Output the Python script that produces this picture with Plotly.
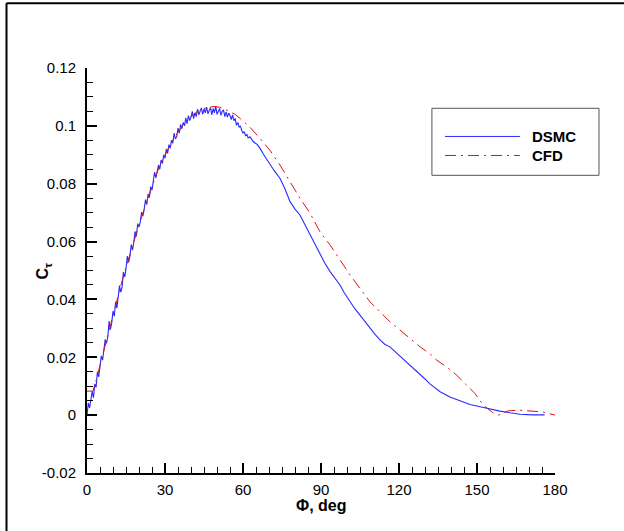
##importing the required modules
import plotly.graph_objects as go

## DSMC data (phi in deg, C_tau)
dsmc_phi = [0.0, 0.5, 1.0, 1.5, 2.0, 2.5, 3.0, 3.5, 4.0, 4.5, 5.0, 5.5, 6.0, 6.5, 7.0, 7.5,
            8.0, 8.5, 9.0, 9.5, 10.0, 10.5, 11.0, 11.5, 12.0, 12.5, 13.0, 13.5, 14.0, 14.5,
            15.0, 15.5, 16.0, 16.5, 17.0, 17.5, 18.0, 18.5, 19.0, 19.5, 20.0, 20.5, 21.0,
            21.5, 22.0, 22.5, 23.0, 23.5, 24.0, 24.5, 25.0, 25.5, 26.0, 26.5, 27.0, 27.5,
            28.0, 28.5, 29.0, 29.5, 30.0, 30.5, 31.0, 31.5, 32.0, 32.5, 33.0, 33.5, 34.0,
            34.5, 35.0, 35.5, 36.0, 36.5, 37.0, 37.5, 38.0, 38.5, 39.0, 39.5, 40.0, 40.5,
            41.0, 41.5, 42.0, 42.5, 43.0, 43.5, 44.0, 44.5, 45.0, 45.5, 46.0, 46.5, 47.0,
            47.5, 48.0, 48.5, 49.0, 49.5, 50.0, 50.5, 51.0, 51.5, 52.0, 52.5, 53.0, 53.5,
            54.0, 54.5, 55.0, 55.5, 56.0, 56.5, 57.0, 57.5, 58.0, 58.5, 59.0, 59.5, 60.0,
            60.5, 61.0, 61.5, 62.0,
            62.7, 64.0, 65.5, 66.5, 68.0, 70.4, 72.0, 74.2, 76.0, 78.1, 80.0, 81.9, 84.0,
            85.8, 88.0, 89.6, 91.5, 93.5, 95.5, 97.3, 99.0, 101.2, 103.0, 105.0, 107.0,
            108.8, 110.7, 112.7, 114.5, 116.5, 118.5, 120.4, 122.3, 124.2, 126.2, 128.1,
            130.0, 131.9, 135.8, 139.6, 143.5, 147.3, 151.2, 155.0, 158.8, 162.7, 166.5,
            171.5, 176.0]
dsmc_c = [0.0000, 0.0042, 0.0025, 0.0062, 0.0082, 0.0060, 0.0108, 0.0096, 0.0150, 0.0132,
          0.0165, 0.0205, 0.0190, 0.0222, 0.0262, 0.0248, 0.0270, 0.0325, 0.0296, 0.0318,
          0.0360, 0.0342, 0.0392, 0.0370, 0.0405, 0.0448, 0.0425, 0.0442, 0.0495, 0.0478,
          0.0505, 0.0550, 0.0528, 0.0548, 0.0590, 0.0570, 0.0598, 0.0635, 0.0618, 0.0662,
          0.0650, 0.0668, 0.0702, 0.0688, 0.0712, 0.0745, 0.0728, 0.0765, 0.0752, 0.0790,
          0.0778, 0.0802, 0.0840, 0.0820, 0.0848, 0.0865, 0.0850, 0.0882, 0.0870, 0.0900,
          0.0888, 0.0920, 0.0905, 0.0935, 0.0922, 0.0950, 0.0940, 0.0975, 0.0955, 0.0962,
          0.0992, 0.0975, 0.1005, 0.0990, 0.1012, 0.1000, 0.1028, 0.1008, 0.1035, 0.1018,
          0.1030, 0.1050, 0.1025, 0.1045, 0.1032, 0.1058, 0.1038, 0.1050, 0.1062, 0.1040,
          0.1058, 0.1045, 0.1065, 0.1042, 0.1055, 0.1064, 0.1038, 0.1060, 0.1045, 0.1068,
          0.1040, 0.1052, 0.1060, 0.1036, 0.1050, 0.1055, 0.1032, 0.1048, 0.1030, 0.1044,
          0.1036, 0.1022, 0.1038, 0.1018, 0.1025, 0.1002, 0.1012, 0.0995, 0.1000, 0.0985,
          0.0975, 0.0980, 0.0965, 0.0970, 0.0958,
          0.0962, 0.0945, 0.0935, 0.0923, 0.0900, 0.0865, 0.0845, 0.0819, 0.0785, 0.0738,
          0.0712, 0.0692, 0.0655, 0.0623, 0.0585, 0.0554, 0.0525, 0.0496, 0.0472, 0.0450,
          0.0422, 0.0392, 0.0368, 0.0346, 0.0322, 0.0300, 0.0280, 0.0260, 0.0245, 0.0236,
          0.0220, 0.0202, 0.0187, 0.0173, 0.0158, 0.0140, 0.0125, 0.0108, 0.0081, 0.0063,
          0.0049, 0.0037, 0.0029, 0.0021, 0.0014, 0.0008, 0.0003, 0.0001, 0.0001]

## CFD data
cfd_phi = [0.0, 2.3, 3.5, 5.0, 7.0, 9.0, 11.0, 13.0, 15.0, 17.0, 19.0, 21.0, 23.0, 25.0,
           27.0, 29.0, 31.0, 33.0, 35.0, 37.0, 39.0, 41.0, 43.0, 45.0, 47.0, 49.2, 51.0,
           53.0, 55.0, 56.9, 59.0, 60.8, 62.7, 66.5, 70.4, 74.2, 78.1, 81.9, 85.8, 89.6,
           93.5, 97.3, 101.2, 105.0, 108.8, 112.7, 116.5, 120.4, 124.2, 128.1, 131.9,
           134.5, 138.3, 142.2, 146.0, 149.2, 152.4, 154.4, 156.0, 158.2, 162.0, 166.5,
           171.5, 175.4, 180.0]
cfd_c = [0.0083, 0.0083, 0.0120, 0.0172, 0.0245, 0.0315, 0.0382, 0.0448, 0.0512, 0.0572,
         0.0630, 0.0685, 0.0738, 0.0790, 0.0840, 0.0882, 0.0918, 0.0950, 0.0978, 0.1003,
         0.1024, 0.1040, 0.1052, 0.1060, 0.1065, 0.1067, 0.1064, 0.1058, 0.1050, 0.1040,
         0.1025, 0.1010, 0.0995, 0.0957, 0.0915, 0.0865, 0.0807, 0.0750, 0.0698, 0.0634,
         0.0588, 0.0536, 0.0484, 0.0438, 0.0392, 0.0357, 0.0323, 0.0294, 0.0265, 0.0236,
         0.0212, 0.0190, 0.0167, 0.0138, 0.0104, 0.0075, 0.0035, 0.0021, 0.0009, 0.0000,
         0.0015, 0.0017, 0.0015, 0.0011, 0.0000]

## tick labels
x_ticks = [0, 30, 60, 90, 120, 150, 180]
y_ticks = [-0.02, 0, 0.02, 0.04, 0.06, 0.08, 0.1, 0.12]
y_labels = ["-0.02", "0", "0.02", "0.04", "0.06", "0.08", "0.1", "0.12"]

font = "Arial, Liberation Sans, sans-serif"
blue = "#2a2aff"
red = "#dd1111"
cfd_dash = "11px,5px,2px,5px"

fig = go.Figure()
fig.add_trace(go.Scatter(x=dsmc_phi, y=dsmc_c, mode="lines", name="DSMC",
                         line=dict(color=blue, width=1.1)))
fig.add_trace(go.Scatter(x=cfd_phi, y=cfd_c, mode="lines", name="CFD",
                         line=dict(color=red, width=1, dash=cfd_dash)))

axis_common = dict(showline=True, linecolor="black", linewidth=2, mirror=False,
                   showgrid=False, zeroline=False, ticks="inside", ticklen=10,
                   tickwidth=2, tickcolor="black",
                   tickfont=dict(family=font, size=15, color="black"))

fig.update_xaxes(range=[0, 180], tickvals=x_ticks,
                 minor=dict(dtick=5, ticks="inside", ticklen=6, tickwidth=1,
                            tickcolor="black"),
                 ticklabelstandoff=2, **axis_common)
fig.update_yaxes(range=[-0.02, 0.12], tickvals=y_ticks, ticktext=y_labels,
                 minor=dict(dtick=0.005, ticks="inside", ticklen=6, tickwidth=1,
                            tickcolor="black"),
                 ticklabelstandoff=6, **axis_common)

## hand drawn legend box like the original
fig.add_shape(type="rect", xref="paper", yref="paper", x0=0.737, x1=1.094,
              y0=0.735, y1=0.9005, line=dict(color="#555555", width=1),
              fillcolor="white")
fig.add_shape(type="line", xref="paper", yref="paper", x0=0.765, x1=0.925,
              y0=0.831, y1=0.831, line=dict(color=blue, width=1))
fig.add_shape(type="line", xref="paper", yref="paper", x0=0.765, x1=0.925,
              y0=0.784, y1=0.784, line=dict(color=red, width=1, dash=cfd_dash))
for name, yy in [("DSMC", 0.831), ("CFD", 0.784)]:
    fig.add_annotation(text="<b>" + name + "</b>", xref="paper", yref="paper",
                       x=0.946, y=yy, xanchor="left", yanchor="middle",
                       showarrow=False, font=dict(family=font, size=15, color="black"))

## axis titles
fig.add_annotation(text="<b>Φ, deg</b>", xref="paper", yref="paper", x=0.5, y=-0.08,
                   xanchor="center", yanchor="middle", showarrow=False,
                   font=dict(family=font, size=16, color="black"))
fig.add_annotation(text="<b>C<sub>τ</sub></b>", xref="paper", yref="paper", x=-0.092,
                   y=0.5, xanchor="center", yanchor="middle", textangle=-90,
                   showarrow=False, font=dict(family=font, size=16, color="black"))

## outer frame (top and left edges)
fig.add_shape(type="line", xref="paper", yref="paper", x0=-0.172, x1=1.2,
              y0=1.16, y1=1.16, line=dict(color="black", width=2))
fig.add_shape(type="line", xref="paper", yref="paper", x0=-0.172, x1=-0.172,
              y0=1.16, y1=-0.2, line=dict(color="black", width=2))

fig.update_layout(width=624, height=531, showlegend=False,
                  margin=dict(l=87, r=69, t=68, b=58),
                  paper_bgcolor="white", plot_bgcolor="white")

## page body has an 8px margin by default, drop it so the figure sits at 0,0
fig.write_html("out.html", config={"displayModeBar": False},
               post_script="document.body.style.margin='0';")
